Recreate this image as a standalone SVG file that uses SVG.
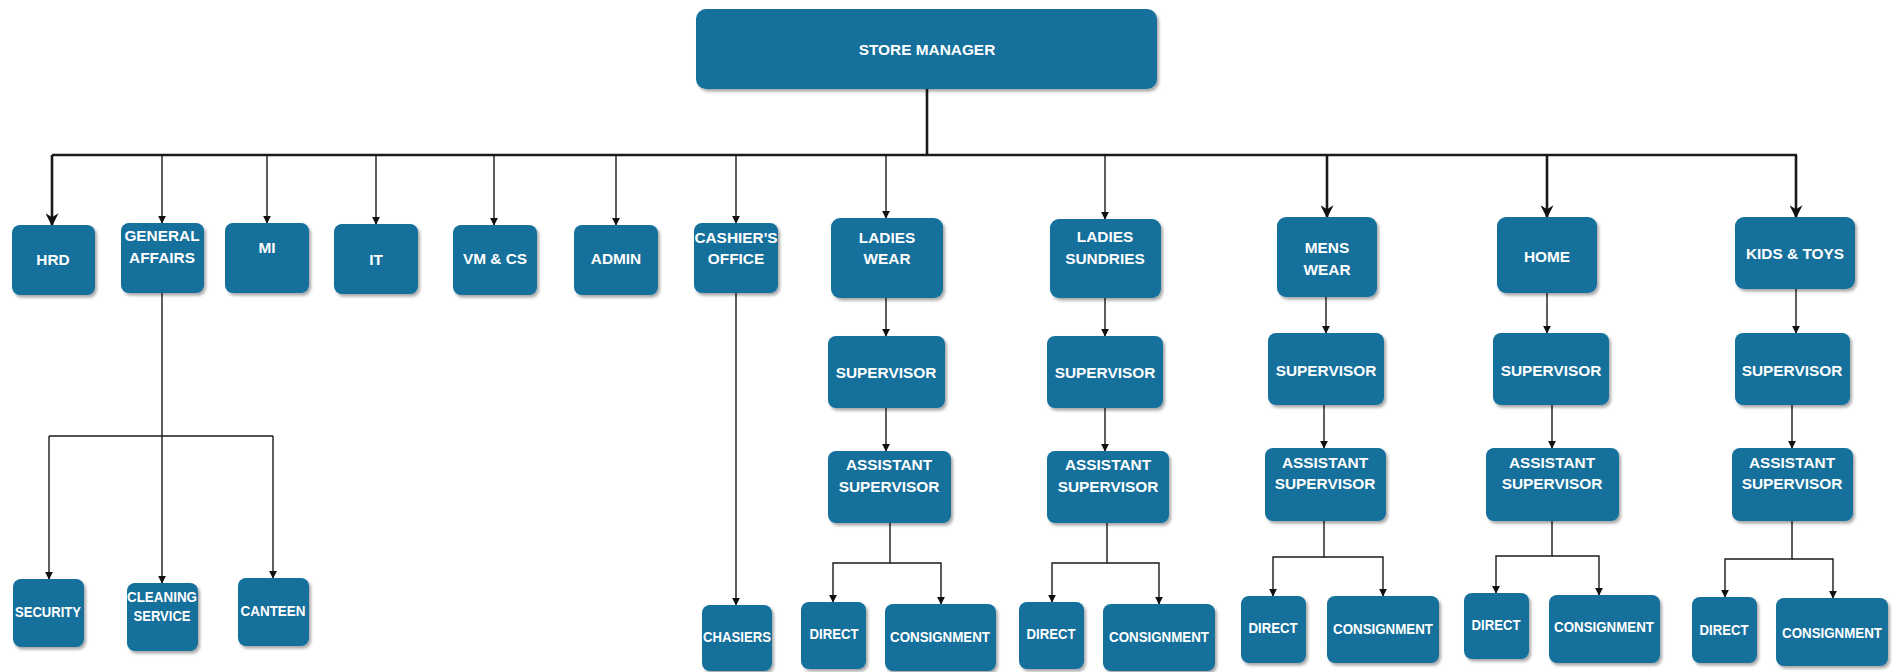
<svg xmlns="http://www.w3.org/2000/svg" width="1898" height="672" viewBox="0 0 1898 672">
<defs>
<filter id="sh" x="-10%" y="-10%" width="130%" height="130%"><feDropShadow dx="2" dy="2.5" stdDeviation="1.5" flood-color="#000" flood-opacity="0.35"/></filter>
<marker id="a" viewBox="0 0 10 10" refX="9" refY="5" markerWidth="8" markerHeight="9" markerUnits="userSpaceOnUse" orient="auto"><path d="M0,0 L10,5 L0,10 z" fill="#111"/></marker>
<marker id="A" viewBox="0 0 10 10" refX="9" refY="5" markerWidth="13" markerHeight="13" markerUnits="userSpaceOnUse" orient="auto"><path d="M0,0 L10,5 L0,10 L3,5 z" fill="#111"/></marker>
</defs>
<style>
.n rect{fill:#12709c;filter:url(#sh)}
.n text{fill:#fff;font-family:"Liberation Sans",Arial,sans-serif;font-weight:bold;font-size:15.4px;text-anchor:middle}
.c path{fill:none;stroke:#1a1a1a;stroke-width:1.4}
.c path.t{stroke-width:2.6}
.c path.ar{marker-end:url(#a)}
.c path.AR{marker-end:url(#A)}
</style>
<rect width="1898" height="672" fill="#fff"/>
<g class="c">
<path class="t" d="M927,89 V155 M52,155 H1797"/>
<path class="t AR" d="M52,155 V225"/>
<path class="ar" d="M162,155 V223"/>
<path class="ar" d="M267,155 V223"/>
<path class="ar" d="M376,155 V224"/>
<path class="ar" d="M494,155 V225"/>
<path class="ar" d="M616,155 V225"/>
<path class="ar" d="M736,155 V223"/>
<path class="ar" d="M886,155 V218"/>
<path class="ar" d="M1105,155 V219"/>
<path class="t AR" d="M1327,155 V217"/>
<path class="t AR" d="M1547,155 V217"/>
<path class="t AR" d="M1796,155 V217"/>
<path class="ar" d="M162,293 V583"/>
<path d="M49,436 H273"/>
<path class="ar" d="M49,436 V579"/>
<path class="ar" d="M273,436 V578"/>
<path class="ar" d="M736,293 V605"/>
<path class="ar" d="M886,298 V336"/>
<path class="ar" d="M886,408 V451"/>
<path class="ar" d="M890,523 V563 H833 V602"/>
<path class="ar" d="M890,563 H941 V604"/>
<path class="ar" d="M1105,298 V336"/>
<path class="ar" d="M1105,408 V451"/>
<path class="ar" d="M1107,523 V563 H1052 V602"/>
<path class="ar" d="M1107,563 H1159 V604"/>
<path class="ar" d="M1326,297 V333"/>
<path class="ar" d="M1324,405 V448"/>
<path class="ar" d="M1324,521 V557 H1273 V596"/>
<path class="ar" d="M1324,557 H1383 V596"/>
<path class="ar" d="M1547,293 V333"/>
<path class="ar" d="M1552,405 V448"/>
<path class="ar" d="M1552,521 V556 H1496 V593"/>
<path class="ar" d="M1552,556 H1599 V595"/>
<path class="ar" d="M1796,289 V333"/>
<path class="ar" d="M1792,405 V448"/>
<path class="ar" d="M1792,521 V559 H1725 V597"/>
<path class="ar" d="M1792,559 H1833 V598"/>
</g>
<g id="store-manager" class="n"><rect x="696" y="9" width="461" height="80" rx="10"/><text x="927" y="55">STORE MANAGER</text></g>
<g id="hrd" class="n"><rect x="12" y="225" width="83" height="70" rx="8"/><text x="53" y="265">HRD</text></g>
<g id="general-affairs" class="n"><rect x="121" y="223" width="83" height="70" rx="8"/><text x="162" y="241">GENERAL</text><text x="162" y="263">AFFAIRS</text></g>
<g id="mi" class="n"><rect x="225" y="223" width="84" height="70" rx="8"/><text x="267" y="253">MI</text></g>
<g id="it" class="n"><rect x="334" y="224" width="84" height="70" rx="8"/><text x="376" y="265">IT</text></g>
<g id="vm-cs" class="n"><rect x="453" y="225" width="84" height="70" rx="8"/><text x="495" y="264">VM &amp; CS</text></g>
<g id="admin" class="n"><rect x="574" y="225" width="84" height="70" rx="8"/><text x="616" y="264">ADMIN</text></g>
<g id="cashiers-office" class="n"><rect x="694" y="223" width="84" height="70" rx="8"/><text x="736" y="243">CASHIER'S</text><text x="736" y="264">OFFICE</text></g>
<g id="ladies-wear" class="n"><rect x="831" y="218" width="112" height="80" rx="9"/><text x="887" y="243">LADIES</text><text x="887" y="264">WEAR</text></g>
<g id="ladies-sundries" class="n"><rect x="1050" y="219" width="111" height="79" rx="9"/><text x="1105" y="242">LADIES</text><text x="1105" y="264">SUNDRIES</text></g>
<g id="mens-wear" class="n"><rect x="1277" y="217" width="100" height="80" rx="9"/><text x="1327" y="253">MENS</text><text x="1327" y="275">WEAR</text></g>
<g id="home" class="n"><rect x="1497" y="217" width="100" height="76" rx="9"/><text x="1547" y="262">HOME</text></g>
<g id="kids-toys" class="n"><rect x="1735" y="217" width="120" height="72" rx="9"/><text x="1795" y="259">KIDS &amp; TOYS</text></g>
<g id="security" class="n"><rect x="13" y="579" width="71" height="68" rx="8"/><text x="48" y="617" textLength="66" lengthAdjust="spacingAndGlyphs">SECURITY</text></g>
<g id="cleaning-service" class="n"><rect x="127" y="583" width="71" height="68" rx="8"/><text x="162" y="602" textLength="70" lengthAdjust="spacingAndGlyphs">CLEANING</text><text x="162" y="621" textLength="57" lengthAdjust="spacingAndGlyphs">SERVICE</text></g>
<g id="canteen" class="n"><rect x="238" y="578" width="71" height="68" rx="8"/><text x="273" y="616" textLength="65" lengthAdjust="spacingAndGlyphs">CANTEEN</text></g>
<g id="chasiers" class="n"><rect x="702" y="605" width="70" height="66" rx="8"/><text x="737" y="642" textLength="68" lengthAdjust="spacingAndGlyphs">CHASIERS</text></g>
<g id="lw-supervisor" class="n"><rect x="828" y="336" width="117" height="72" rx="8"/><text x="886" y="378">SUPERVISOR</text></g>
<g id="lw-assistant" class="n"><rect x="828" y="451" width="123" height="72" rx="8"/><text x="889" y="470">ASSISTANT</text><text x="889" y="492">SUPERVISOR</text></g>
<g id="lw-direct" class="n"><rect x="801" y="602" width="65" height="67" rx="8"/><text x="834" y="639" textLength="49" lengthAdjust="spacingAndGlyphs">DIRECT</text></g>
<g id="lw-consignment" class="n"><rect x="885" y="604" width="111" height="67" rx="8"/><text x="940" y="642" textLength="100" lengthAdjust="spacingAndGlyphs">CONSIGNMENT</text></g>
<g id="ls-supervisor" class="n"><rect x="1047" y="336" width="116" height="72" rx="8"/><text x="1105" y="378">SUPERVISOR</text></g>
<g id="ls-assistant" class="n"><rect x="1047" y="451" width="122" height="72" rx="8"/><text x="1108" y="470">ASSISTANT</text><text x="1108" y="492">SUPERVISOR</text></g>
<g id="ls-direct" class="n"><rect x="1019" y="602" width="65" height="67" rx="8"/><text x="1051" y="639" textLength="49" lengthAdjust="spacingAndGlyphs">DIRECT</text></g>
<g id="ls-consignment" class="n"><rect x="1103" y="604" width="112" height="67" rx="8"/><text x="1159" y="642" textLength="100" lengthAdjust="spacingAndGlyphs">CONSIGNMENT</text></g>
<g id="mw-supervisor" class="n"><rect x="1268" y="333" width="116" height="72" rx="8"/><text x="1326" y="376">SUPERVISOR</text></g>
<g id="mw-assistant" class="n"><rect x="1265" y="448" width="121" height="73" rx="8"/><text x="1325" y="468">ASSISTANT</text><text x="1325" y="489">SUPERVISOR</text></g>
<g id="mw-direct" class="n"><rect x="1241" y="596" width="65" height="67" rx="8"/><text x="1273" y="633" textLength="49" lengthAdjust="spacingAndGlyphs">DIRECT</text></g>
<g id="mw-consignment" class="n"><rect x="1327" y="596" width="112" height="67" rx="8"/><text x="1383" y="634" textLength="100" lengthAdjust="spacingAndGlyphs">CONSIGNMENT</text></g>
<g id="home-supervisor" class="n"><rect x="1493" y="333" width="116" height="72" rx="8"/><text x="1551" y="376">SUPERVISOR</text></g>
<g id="home-assistant" class="n"><rect x="1486" y="448" width="133" height="73" rx="8"/><text x="1552" y="468">ASSISTANT</text><text x="1552" y="489">SUPERVISOR</text></g>
<g id="home-direct" class="n"><rect x="1464" y="593" width="65" height="66" rx="8"/><text x="1496" y="630" textLength="49" lengthAdjust="spacingAndGlyphs">DIRECT</text></g>
<g id="home-consignment" class="n"><rect x="1549" y="595" width="111" height="68" rx="8"/><text x="1604" y="632" textLength="100" lengthAdjust="spacingAndGlyphs">CONSIGNMENT</text></g>
<g id="kids-supervisor" class="n"><rect x="1735" y="333" width="115" height="72" rx="8"/><text x="1792" y="376">SUPERVISOR</text></g>
<g id="kids-assistant" class="n"><rect x="1732" y="448" width="121" height="73" rx="8"/><text x="1792" y="468">ASSISTANT</text><text x="1792" y="489">SUPERVISOR</text></g>
<g id="kids-direct" class="n"><rect x="1692" y="597" width="65" height="66" rx="8"/><text x="1724" y="635" textLength="49" lengthAdjust="spacingAndGlyphs">DIRECT</text></g>
<g id="kids-consignment" class="n"><rect x="1776" y="598" width="112" height="68" rx="8"/><text x="1832" y="638" textLength="100" lengthAdjust="spacingAndGlyphs">CONSIGNMENT</text></g>
</svg>
